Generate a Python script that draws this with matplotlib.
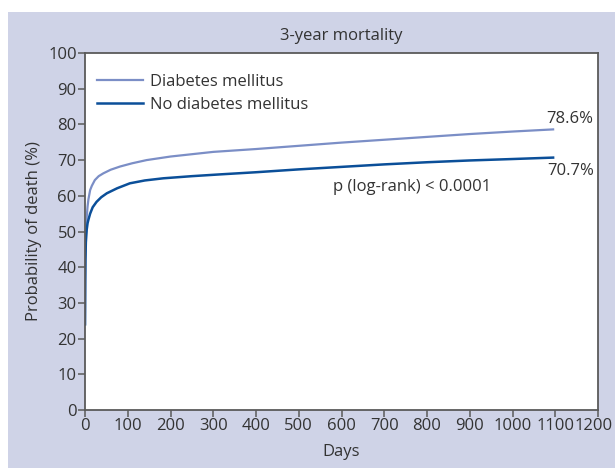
import matplotlib.pyplot as plt
import matplotlib.transforms as mtransforms
from matplotlib.patches import Rectangle

# data
dm_days = [0, 0.5, 1, 2, 4, 6, 8, 12, 16, 23, 32, 43, 60, 82, 110, 144,
           200, 300, 400, 500, 600, 700, 800, 900, 1000, 1095]
dm_vals = [24, 36, 43, 49, 54, 57, 59, 61.6, 62.8, 64.4, 65.5, 66.3, 67.3, 68.2, 69.1, 70.0,
           71.0, 72.3, 73.1, 74.0, 74.9, 75.7, 76.5, 77.3, 78.0, 78.6]

nodm_days = [0, 0.5, 1, 2, 4, 6, 8, 12, 18, 27, 38, 51, 75, 105, 140, 183,
             250, 316, 400, 500, 600, 700, 800, 900, 1000, 1095]
nodm_vals = [24, 36, 42, 47, 50.5, 52.3, 53.3, 55.0, 56.8, 58.3, 59.6, 60.7, 62.1, 63.5, 64.3, 64.9,
             65.5, 66.0, 66.6, 67.4, 68.1, 68.8, 69.4, 69.9, 70.3, 70.7]

x_ticks = list(range(0, 1300, 100))
y_ticks = list(range(0, 110, 10))

plt.rcParams['font.family'] = ['Open Sans', 'DejaVu Sans']

bg = '#cfd3e7'
spine_col = '#5a5a5a'
text_col = '#333333'
fs = 12

fig = plt.figure(figsize=(6.15, 4.68), dpi=100)
fig.patches.append(Rectangle((8 / 615, 0), 1, (468 - 12) / 468, transform=fig.transFigure,
                             facecolor=bg, edgecolor='none', zorder=-10))

ax = fig.add_axes([85 / 615, (468 - 410) / 468, (598 - 85) / 615, (410 - 53) / 468])
ax.set_facecolor('white')

ax.plot(dm_days, dm_vals, color='#7b8ec6', lw=1.6, label='Diabetes mellitus')
ax.plot(nodm_days, nodm_vals, color='#0b4f99', lw=1.8, label='No diabetes mellitus')

ax.set_xlim(0, 1200)
ax.set_ylim(0, 100)
ax.set_xticks(x_ticks)
ax.set_yticks(y_ticks)
ax.tick_params(colors=spine_col, labelcolor=text_col, labelsize=fs, length=5, width=1.1,
               pad=1)
for s in ax.spines.values():
    s.set_color(spine_col)
    s.set_linewidth(1.3)

# last x label sits right at the edge, nudge it a bit left so it stays inside
last = ax.get_xticklabels()[-1]
last.set_transform(last.get_transform() +
                   mtransforms.ScaledTranslation(-4 / 100, 0, fig.dpi_scale_trans))

ax.set_xlabel('Days', fontsize=fs, color=text_col, labelpad=7)
ax.set_ylabel('Probability of death (%)', fontsize=fs, color=text_col, labelpad=4)
ax.set_title('3-year mortality', fontsize=fs, color=text_col, pad=9)

leg = ax.legend(loc='upper left', frameon=False, fontsize=fs, handlelength=2.8,
                handletextpad=0.4, borderaxespad=0.3, labelspacing=0.45,
                bbox_to_anchor=(0, 0.975))
for t in leg.get_texts():
    t.set_color(text_col)

ax.text(1190, dm_vals[-1] + 3.0, '78.6%', ha='right', va='center', fontsize=fs, color=text_col)
ax.text(1190, nodm_vals[-1] - 3.7, '70.7%', ha='right', va='center', fontsize=fs, color=text_col)
ax.text(580, 62.5, 'p (log-rank) < 0.0001', ha='left', va='center', fontsize=fs,
        color=text_col)

fig.savefig('out.png', dpi=100)
